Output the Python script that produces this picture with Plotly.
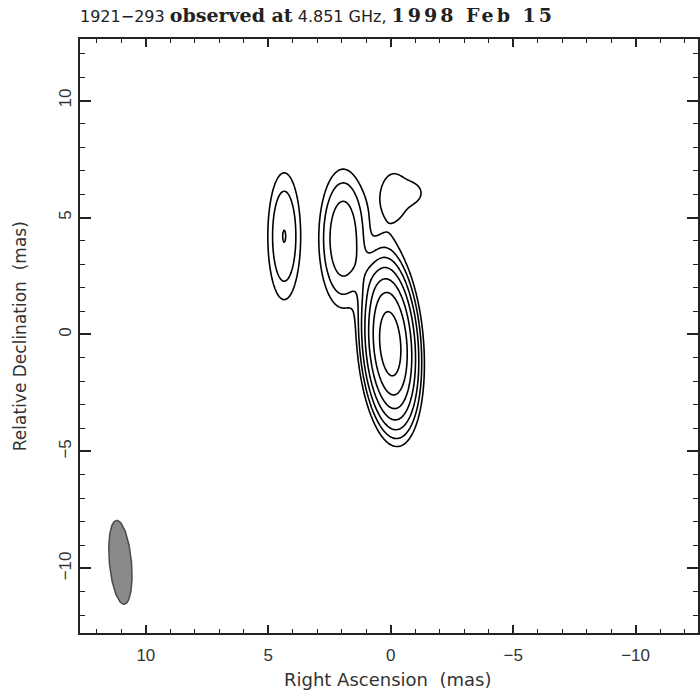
import numpy as np
import plotly.graph_objects as go

# Gaussian source components (positions in mas, peak as fraction of map peak)
comp_ra = [0.02, 0.85, 1.95, 4.35, -0.14, -0.98]
comp_dec = [-0.4, 2.2, 4.1, 4.2, 5.9, 6.05]
comp_peak = [1.0, 0.011, 0.07, 0.0405, 0.0135, 0.008]
comp_sig_maj = [1.45, 1.0, 1.5, 1.62, 1.25, 0.35]
comp_sig_min = [0.45, 0.35, 0.5, 0.4, 0.7, 0.35]
comp_pa = [4.0, 24.0, 0.0, 0.0, 0.0, 0.0]

# contour levels, percent of peak
levels_pct = [1, 2, 4, 8, 16, 32, 64]

# restoring beam (FWHM in mas, PA in degrees)
beam_ra, beam_dec = 11.04, -9.74
beam_maj, beam_min, beam_pa = 3.6, 0.9, 5.0

x_range = [12.69, -12.55]
y_range = [-12.76, 12.63]
tick_vals = [10, 5, 0, -5, -10]

ra = np.arange(-4.0, 7.5, 0.04)
dec = np.arange(-7.5, 9.5, 0.04)
RA, DEC = np.meshgrid(ra, dec)


def gauss2d(r0, d0, peak, smaj, smin, pa):
    t = np.deg2rad(pa)
    dx, dy = RA - r0, DEC - d0
    u = dx * np.sin(t) + dy * np.cos(t)
    v = dx * np.cos(t) - dy * np.sin(t)
    return peak * np.exp(-0.5 * ((u / smaj) ** 2 + (v / smin) ** 2))


image = sum(
    gauss2d(*p)
    for p in zip(comp_ra, comp_dec, comp_peak, comp_sig_maj, comp_sig_min, comp_pa)
)
lowest = levels_pct[0] / 100.0
zlog = np.log2(np.clip(image, 1e-8, None) / lowest)

fig = go.Figure()
fig.add_trace(
    go.Contour(
        x=ra,
        y=dec,
        z=zlog,
        contours=dict(
            start=0,
            end=np.log2(levels_pct[-1] / levels_pct[0]),
            size=1,
            coloring="lines",
        ),
        colorscale=[[0, "black"], [1, "black"]],
        showscale=False,
        line=dict(width=1.6, smoothing=1),
        hoverinfo="skip",
    )
)

# beam ellipse
th = np.linspace(0, 2 * np.pi, 121)
a, b = beam_maj / 2, beam_min / 2
pa = np.deg2rad(beam_pa)
uu, vv = a * np.cos(th), b * np.sin(th)
fig.add_trace(
    go.Scatter(
        x=beam_ra + uu * np.sin(pa) + vv * np.cos(pa),
        y=beam_dec + uu * np.cos(pa) - vv * np.sin(pa),
        mode="lines",
        fill="toself",
        fillcolor="#8a8a8a",
        line=dict(color="#4a4a4a", width=1.5),
        hoverinfo="skip",
        showlegend=False,
    )
)

axis_common = dict(
    showline=True,
    linecolor="#222",
    linewidth=1.5,
    mirror="allticks",
    ticks="inside",
    tickwidth=1.5,
    tickcolor="#222",
    tickvals=tick_vals,
    showgrid=False,
    zeroline=False,
    tickfont=dict(family="Liberation Sans", size=17, color="#333"),
)

sans = "DejaVu Sans"
serif_bold = "font-family:DejaVu Serif;font-size:19px"
serif_bold_wide = "font-family:DejaVu Serif;font-size:19px;letter-spacing:3px"

fig.update_layout(
    width=700,
    height=695,
    margin=dict(l=80, r=0, t=39, b=62),
    paper_bgcolor="white",
    plot_bgcolor="white",
    showlegend=False,
    xaxis=dict(
        range=x_range,
        ticklen=8,
        ticklabelstandoff=6,
        minor=dict(ticks="inside", dtick=1, tick0=0, ticklen=4, tickwidth=1.2, tickcolor="#222"),
        **axis_common,
    ),
    yaxis=dict(
        range=y_range,
        ticklen=11,
        tickangle=-90,
        minor=dict(ticks="inside", dtick=1, tick0=0, ticklen=5, tickwidth=1.2, tickcolor="#222"),
        **axis_common,
    ),
    annotations=[
        dict(
            text=f'1921−293 <span style="{serif_bold}"><b>observed at</b></span> 4.851 GHz, '
                 f'<span style="{serif_bold_wide}"><b>1998 Feb 15</b></span>',
            xref="paper", yref="paper", x=-0.003, y=1.0404,
            xanchor="left", yanchor="middle", showarrow=False,
            font=dict(family=sans, size=16, color="#222"),
        ),
        dict(
            text="Right Ascension  (mas)",
            xref="paper", yref="paper", x=0.497, y=-0.0791,
            xanchor="center", yanchor="middle", showarrow=False,
            font=dict(family=sans, size=18, color="#333"),
        ),
        dict(
            text="Relative Declination  (mas)",
            xref="paper", yref="paper", x=-0.0968, y=0.5,
            xanchor="center", yanchor="middle", showarrow=False, textangle=-90,
            font=dict(family=sans, size=17, color="#333"),
        ),
    ],
)

fig.write_html("out.html")
